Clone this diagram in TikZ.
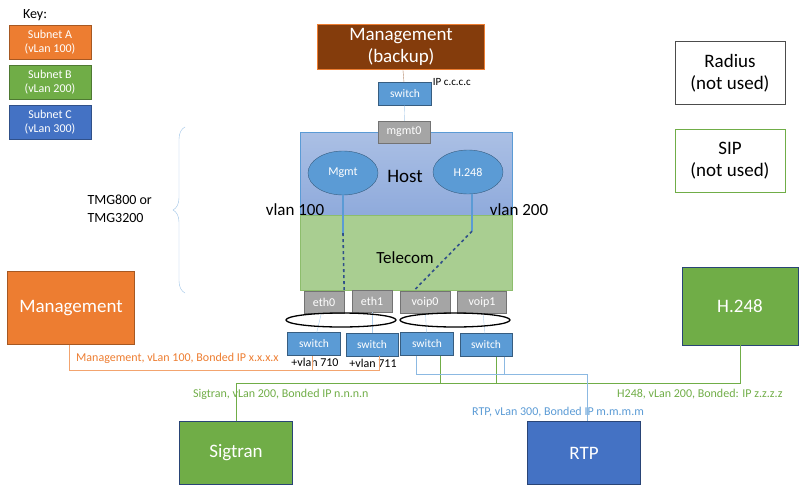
\documentclass[tikz,border=0pt]{standalone}
\usepackage{fontspec}
\setmainfont{Carlito}
\usetikzlibrary{positioning, decorations.pathreplacing, calc, shapes.geometric}
\definecolor{orA}{HTML}{ED7D31}
\definecolor{grB}{HTML}{70AD47}
\definecolor{blC}{HTML}{4472C4}
\definecolor{swb}{HTML}{5B9BD5}
\definecolor{brn}{HTML}{843C0C}
\definecolor{gry}{HTML}{A5A5A5}
\newcommand{\fs}[1]{\fontsize{#1}{#1}\selectfont}

\begin{document}
\begin{tikzpicture}[x=1pt,y=-1pt,
box/.style = {% coloured boxes
    draw, minimum width=#1, inner sep=1pt, text=white, align=center,
            },
sw/.style = {% switches
    box=53pt, fill=swb, draw=swb!60!black, minimum height=23pt, font=\fs{11.5},
            },
port/.style = {% ports
    box=#1, fill=gry, draw=gry!70!black, minimum height=22pt, font=\fs{12},
            },
port/.default = 45pt,
lbl/.style = {font=\fs{12}, inner sep=0pt, anchor=west},
big/.style = {font=\fs{19}, align=center},
                        ]
\useasboundingbox (0,0) rectangle (800,495);
% key
\node[font=\fs{14}] at (35,15) {Key:};
\node[box=82pt, minimum height=34pt, fill=orA, draw=orA!70!black, font=\fs{12}] (ka) at (50,42) {Subnet A\\[2pt](vLan 100)};
\node[box=82pt, minimum height=34pt, fill=grB, draw=grB!70!black, font=\fs{12}] (kb) at (50,82) {Subnet B\\[2pt](vLan 200)};
\node[box=82pt, minimum height=34pt, fill=blC, draw=blC!70!black, font=\fs{12}] (kc) at (50,122) {Subnet C\\[2pt](vLan 300)};
% brace
\draw[swb!60, decorate, decoration={brace, amplitude=12pt}] (185,293) -- (185,127);
\node[align=left, font=\fs{14}, anchor=west] (tmg) at (84,209) {TMG800 or\\[4pt]TMG3200};
% host and telecom
\shade[top color=blC!45, bottom color=blC!60, draw=swb] (300,132) rectangle (512,215);
\fill[grB!60, draw=grB!80] (300,215) rectangle (512,290);
\node[font=\fs{19}] (host) at (405,176) {Host};
\node[font=\fs{17}] (tele) at (405,258) {Telecom};
\node[font=\fs{17}] (v1) at (295,210) {vlan 100};
\node[font=\fs{17}] (v2) at (519,210) {vlan 200};
\node[ellipse, draw=swb!60!black, fill=swb, minimum width=70pt, minimum height=44pt, text=white, font=\fs{12}] (em) at (343,173) {Mgmt};
\node[ellipse, draw=swb!60!black, fill=swb, minimum width=70pt, minimum height=44pt, text=white, font=\fs{12}] (eh) at (468,172) {H.248};
% top
\node[box=167pt, minimum height=45pt, fill=brn, draw=orA, big] (mb) at (401,47) {Management\\[3pt](backup)};
\node[sw] (s0) at (405,94) {switch};
\node[font=\fs{11}, anchor=west, inner sep=1pt] (ipc) at (s0.north east) {IP c.c.c.c};
\node[port=52pt] (m0) at (404,132) {mgmt0};
\draw[brn!60] (mb) -- (s0);
\draw[swb!50] (s0) -- (m0);
% ports
\node[port=40pt] (eth0) at (324,302) {eth0};
\node[port=40pt] (eth1) at (372,301) {eth1};
\node[port=50pt] (vo0) at (425,302) {voip0};
\node[port=49pt] (vo1) at (482,302) {voip1};
\draw[swb, line width=2pt] (em.south) -- ++(0,38) coordinate (c1);
\draw[blC!70!black, line width=1.6pt, dashed] (c1) -- (eth0.north east);
\draw[swb, line width=2pt] (eh.south) ++(4,0) -- ++(0,37) coordinate (c2);
\draw[blC!70!black, line width=1.6pt, dashed] (c2) -- ($(vo0.north west)!0.55!(vo0.north)$);
% switches
\node[sw] (s1) at (314,344) {switch};
\node[sw, minimum width=52pt] (s2) at (372,345) {switch};
\node[sw] (s3) at (427,344) {switch};
\node[sw, minimum width=52pt] (s4) at (486,345) {switch};
\node[font=\fs{12}, inner sep=0pt] (p1) at (315,362) {+vlan 710};
\node[font=\fs{12}, inner sep=0pt] (p2) at (373,363) {+vlan 711};
\foreach \a/\b in {eth0/s1, eth1/s2, vo0/s3, vo1/s4}{\draw[swb!50] (\a) -- (\b);}
\draw[line width=1.3pt] (341,320) ellipse (55pt and 7pt);
\draw[line width=1.3pt] (455,320) ellipse (55pt and 7pt);
% right boxes
\node[draw=black!70, minimum width=110pt, minimum height=63pt, big] (rad) at (730,73) {Radius\\[3pt](not used)};
\node[draw=grB, minimum width=110pt, minimum height=63pt, big] (sip) at (730,161) {SIP\\[3pt](not used)};
\node[box=116pt, minimum height=78pt, fill=grB, draw=blC!60!black, big] (h248) at (740,306) {H.248};
\node[box=127pt, minimum height=73pt, fill=orA, draw=orA!70!black, big] (mgmt) at (71,308) {Management};
\node[box=113pt, minimum height=63pt, fill=grB, draw=blC!60!black, big] (sig) at (236,453) {Sigtran};
\node[box=113pt, minimum height=63pt, fill=blC, draw=blC!60!black, big] (rtp) at (584,453) {RTP};
% subnet A
\draw[orA!70] (mgmt.south -| 69,0) |- (379,370) -- (379,356);
\draw[orA!70] (312,356) -- (312,370);
\node[lbl, text=orA] (la) at (76,358) {Management, vLan 100, Bonded IP x.x.x.x};
% subnet B
\draw[grB] (sig.north) |- (h248.south |- 0,383) -- (h248.south);
\draw[grB] (s3.south -| 440,0) -- (440,383);
\draw[grB] (s4.south -| 496,0) -- (496,383);
\node[lbl, text=grB] (lb) at (193,394) {Sigtran, vLan 200, Bonded IP n.n.n.n};
\node[lbl, text=grB] (lh) at (617,394) {H248, vLan 200, Bonded: IP z.z.z.z};
% subnet C
\draw[swb!70] (s3.south -| 416,0) |- (587,374) -- (rtp.north -| 587,0);
\draw[swb!70] (s4.south -| 504,0) -- (504,374);
\node[lbl, text=swb] (lc) at (472,412) {RTP, vLan 300, Bonded  IP m.m.m.m};
\end{tikzpicture}
\end{document}
